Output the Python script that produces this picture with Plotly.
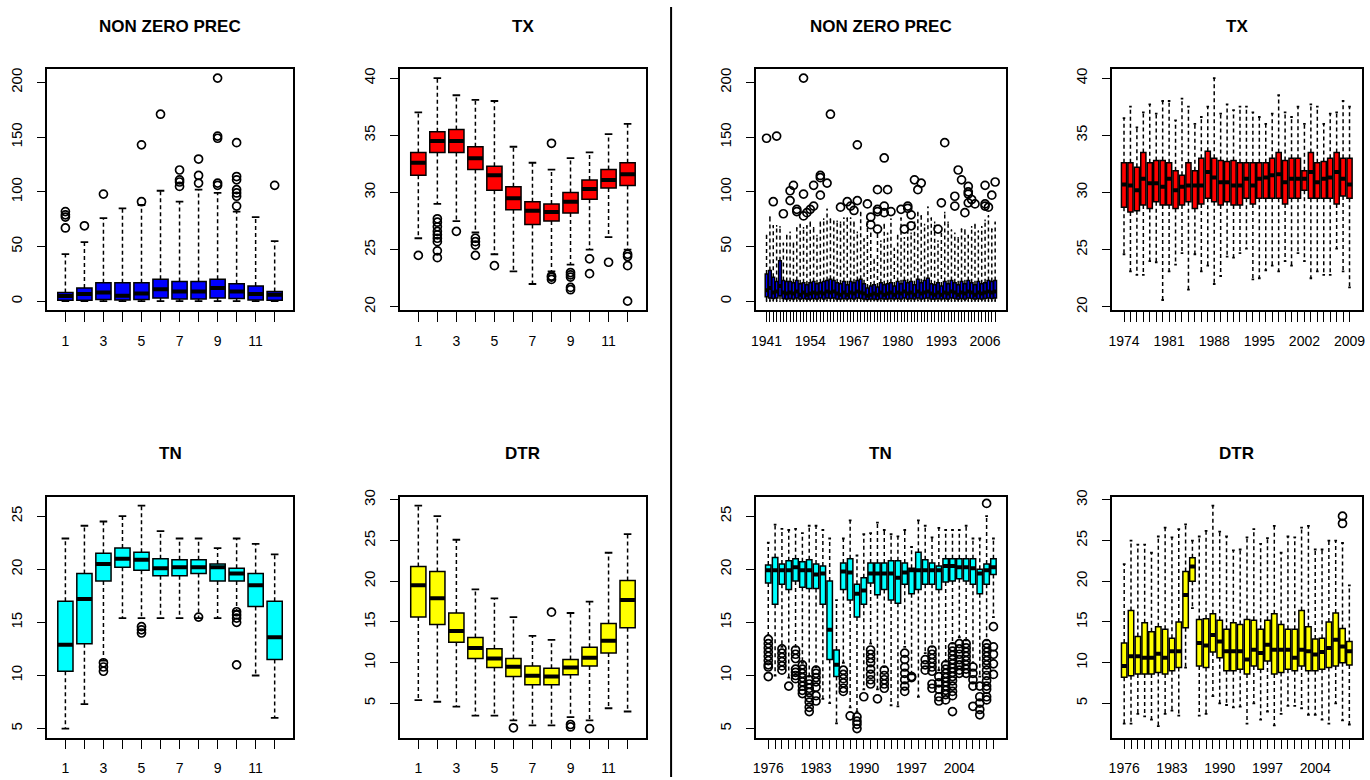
import plotly.graph_objects as go

# ---------------- DATA ----------------
months = list(range(1, 13))
month_labels = ["1", "", "3", "", "5", "", "7", "", "9", "", "11", ""]

# NON ZERO PREC by month
prec_m_lo = [0.1, 0.1, 0.1, 0.2, 0.1, 0.2, 0.1, 0.1, 0.2, 0.1, 0.1, 0.1]
prec_m_q1 = [1.0, 1.0, 1.5, 1.2, 1.5, 3.0, 2.0, 2.0, 3.0, 2.4, 1.2, 1.0]
prec_m_med = [4.8, 6.6, 8.0, 5.0, 7.0, 11.0, 9.0, 9.0, 12.0, 9.0, 6.6, 6.0]
prec_m_q3 = [8.0, 12.0, 17.0, 17.0, 17.0, 20.0, 18.0, 18.0, 20.0, 16.0, 14.0, 9.0]
prec_m_hi = [43, 54, 76, 85, 88, 101, 91, 102, 99, 82, 77, 55]
prec_m_out_x = [1, 1, 1, 1, 2, 3, 5, 5, 6, 7, 7, 7, 7, 8, 8, 8, 9, 9, 9, 9, 9,
                10, 10, 10, 10, 10, 10, 10, 12]
prec_m_out_y = [82, 79, 77, 67, 69, 98, 91, 143, 171, 120, 111, 109, 105, 130, 115, 108,
                204, 151, 149, 108, 106, 145, 114, 111, 102, 99, 96, 87, 106]

# TX by month
tx_m_lo = [26.0, 29.0, 27.5, 26.5, 24.6, 23.1, 22.0, 23.1, 23.7, 25.0, 26.1, 25.0]
tx_m_q1 = [31.5, 33.5, 33.5, 32.0, 30.2, 28.5, 27.2, 27.5, 28.2, 29.4, 30.4, 30.6]
tx_m_med = [32.6, 34.5, 34.5, 33.0, 31.5, 29.5, 28.4, 28.3, 29.2, 30.3, 31.1, 31.6]
tx_m_q3 = [33.5, 35.3, 35.5, 34.0, 32.3, 30.5, 29.2, 29.0, 30.0, 31.1, 32.0, 32.6]
tx_m_hi = [37.0, 40.0, 38.5, 38.1, 38.0, 34.0, 32.6, 32.0, 33.0, 33.5, 35.1, 36.0]
tx_m_out_x = [1, 2, 2, 2, 2, 2, 2, 2, 2, 2, 3, 4, 4, 4, 4, 5, 8, 8, 8, 8,
              9, 9, 9, 9, 9, 10, 10, 11, 12, 12, 12, 12]
tx_m_out_y = [24.5, 27.7, 27.4, 27.0, 26.6, 26.3, 26.0, 25.7, 24.9, 24.3, 26.6,
              26.0, 25.7, 25.4, 24.5, 23.6, 34.3, 22.7, 22.6, 22.4,
              23.0, 22.8, 22.6, 21.7, 21.5, 24.2, 22.9, 23.9, 24.6, 24.4, 23.6, 20.5]

# TN by month
tn_m_lo = [5.0, 7.3, 11.4, 15.4, 15.4, 15.4, 15.4, 15.4, 15.4, 16.1, 10.0, 6.0]
tn_m_q1 = [10.4, 13.0, 18.9, 20.2, 19.9, 19.4, 19.4, 19.6, 18.9, 18.9, 16.5, 11.5]
tn_m_med = [12.9, 17.2, 20.5, 21.0, 20.9, 20.1, 20.2, 20.2, 20.2, 19.6, 18.5, 13.6]
tn_m_q3 = [17.0, 19.6, 21.5, 22.0, 21.6, 21.0, 20.9, 20.9, 20.5, 20.1, 19.6, 17.0]
tn_m_hi = [22.9, 24.1, 24.5, 25.0, 26.0, 23.6, 22.9, 22.9, 22.0, 22.9, 22.4, 21.4]
tn_m_out_x = [3, 3, 3, 5, 5, 5, 8, 10, 10, 10, 10, 10]
tn_m_out_y = [11.2, 10.8, 10.4, 14.6, 14.3, 14.0, 15.5, 16.0, 15.7, 15.4, 15.0, 11.0]

# DTR by month
dtr_m_lo = [5.4, 5.2, 4.6, 3.5, 3.5, 2.9, 2.3, 2.3, 3.3, 2.9, 4.4, 4.0]
dtr_m_q1 = [15.6, 14.7, 12.5, 10.5, 9.4, 8.3, 7.3, 7.3, 8.5, 9.6, 11.2, 14.3]
dtr_m_med = [19.5, 17.9, 13.9, 11.8, 10.5, 9.5, 8.4, 8.3, 9.4, 10.6, 12.7, 17.7]
dtr_m_q3 = [21.8, 21.2, 16.1, 13.1, 11.7, 10.5, 9.6, 9.3, 10.4, 11.9, 14.8, 20.1]
dtr_m_hi = [29.3, 28.0, 25.1, 19.0, 17.9, 15.6, 13.3, 12.8, 16.1, 17.5, 23.5, 25.8]
dtr_m_out_x = [6, 8, 9, 9, 10]
dtr_m_out_y = [2.0, 16.2, 2.4, 2.1, 1.9]

# NON ZERO PREC by year (1941-2009)
prec_years = list(range(1941, 2010))
prec_year_labels = [1941, 1954, 1967, 1980, 1993, 2006]
prec_y_lo = [0.2, 0.1, 0.3, 0.1, 0.2, 0.1, 0.2, 0.3, 0.1, 0.2,
             0.1, 0.2, 0.1, 0.3, 0.2, 0.1, 0.2, 0.1, 0.3, 0.2,
             0.1, 0.2, 0.1, 0.2, 0.3, 0.1, 0.2, 0.1, 0.2, 0.1,
             0.1, 0.2, 0.3, 0.1, 0.2, 0.1, 0.2, 0.1, 0.3, 0.2,
             0.1, 0.2, 0.1, 0.2, 0.1, 0.3, 0.2, 0.1, 0.2, 0.1,
             0.2, 0.1, 0.3, 0.2, 0.1, 0.2, 0.1, 0.2, 0.1, 0.3,
             0.2, 0.1, 0.2, 0.1, 0.3, 0.2, 0.1, 0.2, 0.1]
prec_y_q1 = [4, 3, 2.5, 3, 5, 2.5, 2, 2.5, 2, 3,
             2, 2.5, 2, 2, 2.5, 2, 3, 2, 3, 2.5,
             3, 2, 2, 2.5, 2, 2.5, 2, 3, 2.5, 2,
             1.5, 2, 2, 1.5, 2.5, 2, 2, 2.5, 2, 2.5,
             2, 3, 2, 2.5, 2, 3, 2, 2.5, 3, 2,
             2, 2.5, 2, 2.5, 2, 3, 2.5, 2, 2.5, 2,
             3, 2.5, 2, 2.5, 2, 2.5, 3, 2.5, 3]
prec_y_med = [10, 12, 8, 9, 14, 8, 7, 8, 7, 9,
              6, 8, 6, 7, 8, 7, 8, 7, 9, 8,
              9, 7, 6, 8, 6, 8, 7, 9, 8, 7,
              5, 6, 7, 6, 8, 6, 7, 8, 6, 8,
              7, 9, 7, 8, 6, 9, 7, 8, 9, 7,
              6, 8, 6, 8, 7, 9, 8, 6, 8, 7,
              9, 8, 6, 8, 7, 8, 9, 8, 9]
prec_y_q3 = [25, 28, 22, 18, 37, 19, 18, 18, 17, 19,
             16, 17, 15, 17, 18, 16, 17, 18, 19, 20,
             19, 17, 16, 18, 15, 18, 17, 19, 20, 16,
             12, 14, 15, 13, 17, 15, 16, 17, 14, 18,
             16, 19, 17, 18, 15, 20, 17, 19, 21, 16,
             15, 17, 14, 18, 16, 19, 17, 15, 18, 16,
             19, 17, 15, 18, 16, 17, 19, 18, 19]
prec_y_hi = [60, 77, 69, 69, 68, 53, 60, 63, 53, 67,
             70, 67, 69, 72, 67, 60, 72, 75, 84, 75,
             73, 73, 72, 76, 76, 76, 72, 63, 81, 57,
             75, 62, 38, 62, 55, 70, 62, 75, 48, 60,
             76, 58, 70, 62, 72, 81, 78, 70, 86, 76,
             72, 55, 64, 81, 72, 65, 62, 58, 66, 65,
             60, 68, 70, 64, 68, 74, 78, 66, 72]
prec_y_out_year = [1941, 1943, 1944, 1946, 1948, 1948, 1949, 1950, 1950, 1952, 1952, 1952,
                   1953, 1954, 1955, 1955, 1957, 1957, 1957, 1959, 1960, 1963, 1965, 1966,
                   1967, 1968, 1968, 1971, 1972, 1972, 1974, 1974, 1974, 1974, 1976, 1976,
                   1976, 1977, 1978, 1981, 1982, 1983, 1983, 1984, 1984, 1985, 1986, 1987,
                   1992, 1993, 1994, 1997, 1997, 1998, 1999, 2000, 2001, 2001, 2001, 2001,
                   2002, 2003, 2006, 2006, 2006, 2007, 2008, 2009]
prec_y_out_val = [149, 91, 151, 80, 92, 101, 106, 84, 82, 204, 98, 78,
                  81, 84, 87, 106, 97, 115, 113, 108, 171, 86, 91, 87,
                  83, 143, 92, 89, 77, 70, 102, 82, 84, 66, 131, 87,
                  81, 102, 82, 84, 66, 87, 85, 79, 69, 111, 102, 108,
                  66, 90, 145, 87, 96, 120, 111, 81, 105, 100, 98, 90,
                  93, 89, 106, 89, 87, 86, 97, 109]

# TX by year (1974-2009)
tx_years = list(range(1974, 2010))
tx_year_labels = [1974, 1981, 1988, 1995, 2002, 2009]
tx_y_lo = [24.6, 23.1, 22.8, 22.8, 24.0, 23.9, 20.6, 23.1, 23.7, 24.7, 21.5, 24.6,
           23.1, 23.6, 22.0, 22.7, 24.4, 24.3, 24.7, 25.1, 22.4, 22.5, 23.2, 23.6,
           23.1, 24.0, 23.6, 24.7, 24.0, 22.5, 23.1, 22.8, 22.8, 25.1, 23.1, 21.7]
tx_y_q1 = [28.7, 28.3, 28.4, 28.9, 28.6, 29.2, 28.9, 28.9, 28.6, 28.9, 29.2, 28.6,
           29.0, 29.5, 29.2, 28.9, 29.2, 28.9, 28.9, 29.5, 29.0, 29.5, 29.5, 29.5,
           29.5, 29.0, 29.5, 29.5, 30.2, 29.5, 29.5, 29.5, 29.5, 29.0, 29.7, 29.5]
tx_y_med = [30.7, 30.6, 30.2, 31.2, 30.8, 30.8, 30.5, 31.2, 30.2, 30.5, 30.6, 30.6,
            30.6, 31.8, 31.3, 30.9, 30.9, 30.6, 30.6, 31.2, 30.6, 31.2, 31.3, 31.5,
            31.6, 30.9, 31.2, 31.2, 31.2, 31.8, 30.9, 31.2, 31.3, 31.8, 31.2, 30.7]
tx_y_q3 = [32.6, 32.6, 32.2, 33.5, 32.6, 32.8, 32.8, 32.6, 31.9, 31.5, 32.6, 31.9,
           33.0, 33.6, 33.0, 32.8, 32.7, 32.8, 32.6, 32.6, 32.6, 32.6, 32.6, 33.0,
           33.5, 32.8, 33.0, 33.0, 31.9, 33.5, 32.6, 32.7, 33.0, 33.5, 33.0, 33.0]
tx_y_hi = [36.5, 37.5, 35.7, 37.0, 37.7, 36.9, 38.0, 38.0, 36.3, 38.2, 37.5, 36.0,
           36.6, 37.5, 40.0, 36.9, 37.7, 37.2, 37.5, 37.5, 37.0, 36.6, 36.0, 36.9,
           38.5, 37.0, 36.6, 37.5, 36.0, 37.7, 37.5, 36.0, 36.9, 37.0, 38.0, 37.5]

# TN by year (1976-2009)
tn_years = list(range(1976, 2010))
tn_year_labels = [1976, 1983, 1990, 1997, 2004]
tn_y_lo = [13.8, 10.0, 12.7, 9.8, 12.7, 11.2, 9.9, 10.8, 7.8, 7.4, 5.5, 11.2, 7.0, 6.6, 8.7, 13.0, 8.7,
           10.8, 7.2, 7.1, 12.7, 10.1, 8.0, 12.1, 12.7, 10.5, 11.3, 13.0, 13.6, 13.3, 11.2, 9.9, 13.3, 15.5]
tn_y_q1 = [18.7, 16.7, 18.6, 18.1, 18.9, 18.3, 18.2, 18.2, 16.7, 11.5, 9.9, 18.1, 17.1, 15.5, 16.7, 18.7, 17.6,
           18.1, 17.1, 16.8, 18.6, 17.7, 18.1, 18.6, 18.6, 18.1, 18.8, 18.9, 19.1, 18.9, 18.6, 17.7, 18.6, 19.5]
tn_y_med = [19.9, 19.9, 19.9, 19.9, 20.2, 19.9, 19.9, 19.5, 19.6, 14.3, 11.0, 19.8, 19.7, 17.7, 18.0, 19.6, 19.6,
            19.6, 19.6, 19.2, 19.7, 19.9, 19.9, 19.9, 19.9, 19.9, 20.3, 20.3, 20.2, 20.2, 20.1, 19.6, 19.9, 20.2]
tn_y_q3 = [20.4, 21.1, 20.5, 20.8, 21.0, 20.7, 20.9, 20.5, 20.3, 18.9, 12.4, 20.6, 21.0, 18.6, 19.2, 20.6, 20.6,
           20.6, 20.8, 20.8, 20.6, 20.1, 21.6, 20.9, 20.6, 20.3, 21.0, 21.0, 21.0, 21.0, 21.0, 20.0, 20.5, 21.0]
tn_y_hi = [22.5, 24.2, 23.8, 23.7, 23.8, 23.4, 24.1, 24.1, 23.7, 22.9, 17.1, 22.9, 24.6, 21.3, 23.3, 23.4, 24.4,
           23.7, 23.3, 23.1, 23.7, 22.1, 24.6, 24.1, 23.0, 23.9, 23.7, 23.7, 23.7, 24.1, 22.9, 22.9, 25.0, 22.9]
tn_y_out_year = ([1976] * 9 + [1978] * 6 + [1979] + [1980] * 7 + [1981] * 8 + [1982] * 8 + [1983] * 7 +
                 [1987] * 6 + [1988] + [1989] * 4 + [1990] + [1991] * 8 + [1992] + [1993] * 5 +
                 [1996] * 7 + [1997] * 2 + [1999] * 3 + [2000] * 8 + [2001] * 5 + [2002] * 9 +
                 [2003] * 13 + [2004] * 7 + [2005] * 8 + [2006] * 5 + [2007] * 5 + [2008] * 14 + [2009] * 5)
tn_y_out_val = [13.4, 13.0, 12.6, 12.2, 11.8, 11.4, 11.0, 10.8, 9.9,
                12.5, 12.1, 11.7, 11.3, 10.9, 10.5,
                9.0,
                12.4, 12.0, 11.6, 10.6, 10.3, 10.0, 9.7,
                11.0, 10.6, 10.2, 9.8, 9.4, 9.0, 8.6, 8.3,
                9.6, 9.2, 8.8, 8.4, 7.9, 7.5, 7.0, 6.6,
                10.5, 10.2, 9.8, 9.4, 8.9, 8.1, 7.6,
                10.5, 10.1, 9.7, 9.3, 8.8, 8.5,
                6.2,
                6.1, 5.7, 5.4, 5.0,
                8.0,
                12.4, 12.0, 11.6, 11.2, 10.6, 10.1, 9.6, 9.2,
                7.8,
                10.5, 10.0, 9.6, 9.2, 8.8,
                12.1, 11.5, 10.8, 10.2, 9.6, 9.0, 8.5,
                9.9, 9.8,
                11.5, 11.0, 10.5,
                12.4, 12.0, 11.6, 11.2, 10.8, 10.4, 9.2, 8.8,
                9.9, 9.3, 8.7, 8.0, 7.6,
                11.0, 10.6, 10.2, 9.8, 9.4, 9.0, 8.6, 8.2, 7.7,
                12.7, 12.3, 11.9, 11.5, 11.1, 10.7, 10.3, 9.9, 9.5, 9.0, 8.5, 8.1, 6.6,
                13.0, 12.5, 12.0, 11.5, 11.0, 10.5, 10.2,
                13.0, 12.6, 12.2, 11.8, 11.4, 11.0, 10.6, 10.2,
                10.8, 10.2, 9.6, 9.0, 7.1,
                9.0, 8.0, 7.4, 6.8, 6.3,
                26.2, 13.0, 12.6, 12.2, 11.8, 11.4, 11.0, 10.5, 10.0, 9.5, 9.0, 8.7, 8.0, 7.7,
                14.6, 12.7, 12.0, 11.1, 10.1]

# DTR by year (1976-2009)
dtr_years = list(range(1976, 2010))
dtr_year_labels = [1976, 1983, 1990, 1997, 2004]
dtr_y_lo = [2.5, 2.5, 3.7, 3.4, 3.0, 2.2, 3.7, 4.1, 3.5, 9.4, 16.7, 3.5, 3.7, 5.9, 5.0, 4.8, 4.5,
            4.6, 2.5, 5.0, 3.0, 4.0, 2.3, 3.7, 4.7, 4.7, 4.4, 3.6, 3.6, 3.0, 2.5, 5.0, 2.9, 2.4]
dtr_y_q1 = [8.2, 8.4, 8.6, 8.6, 8.6, 8.8, 8.6, 9.0, 9.4, 14.3, 20.0, 9.6, 9.4, 11.3, 10.6, 9.0, 9.0,
            9.2, 8.6, 9.6, 9.2, 10.2, 8.6, 8.8, 9.2, 9.0, 9.6, 9.0, 9.0, 9.2, 9.4, 9.6, 10.0, 9.7]
dtr_y_med = [9.6, 10.8, 10.8, 10.6, 10.6, 11.1, 10.6, 11.4, 11.4, 18.3, 21.8, 12.4, 12.1, 13.4, 12.6, 11.4, 11.4,
             11.4, 10.4, 11.6, 11.2, 12.2, 11.6, 11.6, 11.6, 10.6, 11.6, 11.4, 11.0, 11.3, 11.8, 12.8, 12.0, 11.4]
dtr_y_q3 = [12.4, 16.4, 13.2, 14.9, 13.8, 14.4, 14.1, 13.0, 15.0, 21.2, 22.9, 15.3, 15.4, 16.0, 15.2, 14.1, 14.9,
            14.7, 15.3, 15.2, 14.1, 15.2, 16.0, 14.7, 14.1, 14.1, 16.4, 14.4, 12.9, 13.0, 15.0, 16.1, 14.2, 12.6]
dtr_y_hi = [22.1, 25.0, 24.5, 24.5, 23.5, 25.5, 26.6, 25.4, 26.4, 27.0, 25.0, 25.5, 26.2, 29.3, 26.1, 25.5, 23.8,
            23.9, 25.4, 26.4, 24.6, 25.3, 26.8, 23.5, 25.5, 25.4, 26.6, 26.8, 23.9, 23.9, 25.0, 25.0, 24.7, 19.5]
dtr_y_out_year = [2008, 2008]
dtr_y_out_val = [28.0, 27.1]

# ---------------- LAYOUT ----------------
W, H = 1370, 780
COLS = [(42, 290), (397, 645), (755, 1007), (1113, 1365)]
ROWS = [(63, 307), (496, 740)]
TITLE_Y = [20, 452]

TICK_FONT = dict(family="Liberation Sans, Arial", size=14, color="black")
YTICK_FONT = dict(family="Liberation Sans, Arial", size=15, color="black")
TITLE_FONT = dict(family="Liberation Sans, Arial", size=17, color="black")

fig = go.Figure()


def yrange_for(*lists):
    vals = [v for l in lists for v in l]
    lo, hi = min(vals), max(vals)
    pad = 0.04 * (hi - lo)
    return [lo - pad, hi + pad]


def add_panel(k, col, row, title, lo, q1, med, q3, hi, out_pos, out_val,
              color, ticktext, yr, ytv):
    n = len(q1)
    pos = list(range(1, n + 1))
    xa = "x" if k == 1 else f"x{k}"
    ya = "y" if k == 1 else f"y{k}"
    common = dict(xaxis=xa, yaxis=ya, hoverinfo="skip", showlegend=False)

    wx, wy, cx, cy, mx, my = [], [], [], [], [], []
    for p, a, b, m, c, d in zip(pos, lo, q1, med, q3, hi):
        wx += [p, p, None, p, p, None]
        wy += [b, a, None, c, d, None]
        cx += [p - 0.2, p + 0.2, None, p - 0.2, p + 0.2, None]
        cy += [a, a, None, d, d, None]
        mx += [p - 0.4, p + 0.4, None]
        my += [m, m, None]

    fig.add_trace(go.Scatter(x=wx, y=wy, mode="lines",
                             line=dict(color="black", width=1.5, dash="4px,3px"), **common))
    fig.add_trace(go.Scatter(x=cx, y=cy, mode="lines",
                             line=dict(color="black", width=1.8), **common))
    fig.add_trace(go.Box(x=pos, q1=q1, median=med, q3=q3, lowerfence=q1, upperfence=q3,
                         width=0.8, fillcolor=color, line=dict(color="black", width=1.5),
                         boxpoints=False, **common))
    fig.add_trace(go.Scatter(x=mx, y=my, mode="lines",
                             line=dict(color="black", width=4), **common))
    if out_pos:
        fig.add_trace(go.Scatter(x=out_pos, y=out_val, mode="markers",
                                 marker=dict(symbol="circle-open", size=8, color="black",
                                             line=dict(width=1.7, color="black")), **common))

    x0, x1 = COLS[col]
    y0, y1 = ROWS[row]
    fig.layout["xaxis" if k == 1 else f"xaxis{k}"] = dict(
        domain=[x0 / W, x1 / W], range=[0.5 - 0.04 * n, n + 0.5 + 0.04 * n],
        tickvals=pos, ticktext=ticktext, tickangle=0, ticks="outside", ticklen=10, tickwidth=1.3,
        tickcolor="black", showline=True, mirror=True, linecolor="black", linewidth=1.6,
        showgrid=False, zeroline=False, anchor=ya, tickfont=TICK_FONT, ticklabelstandoff=7,
        fixedrange=True)
    fig.layout["yaxis" if k == 1 else f"yaxis{k}"] = dict(
        domain=[1 - y1 / H, 1 - y0 / H], range=yr, tickvals=ytv, ticks="outside",
        ticklen=8, tickwidth=1.3, tickcolor="black", tickangle=-90, showline=True,
        mirror=True, linecolor="black", linewidth=1.6, showgrid=False, zeroline=False,
        anchor=xa, tickfont=YTICK_FONT, ticklabelstandoff=9, fixedrange=True)
    fig.add_annotation(text=f"<b>{title}</b>", x=(x0 + x1) / 2 / W, y=1 - TITLE_Y[row] / H,
                       xref="paper", yref="paper", showarrow=False, font=TITLE_FONT,
                       xanchor="center", yanchor="middle")


def year_ticktext(years, labels):
    return [str(y) if y in labels else "" for y in years]


def year_index(years, out_years):
    return [years.index(y) + 1 for y in out_years]


prec_range = yrange_for(prec_m_lo, prec_m_hi, prec_m_out_y)
tx_range = yrange_for(tx_m_lo, tx_m_hi, tx_m_out_y)
tn_range = yrange_for(tn_m_lo, tn_m_hi, tn_m_out_y)
dtr_range = yrange_for(dtr_m_lo, dtr_m_hi, dtr_m_out_y)

BLUE, RED, CYAN, YELLOW = "#0000FF", "#FF0000", "#00FFFF", "#FFFF00"

add_panel(1, 0, 0, "NON ZERO PREC", prec_m_lo, prec_m_q1, prec_m_med, prec_m_q3, prec_m_hi,
          prec_m_out_x, prec_m_out_y, BLUE, month_labels, prec_range, [0, 50, 100, 150, 200])
add_panel(2, 1, 0, "TX", tx_m_lo, tx_m_q1, tx_m_med, tx_m_q3, tx_m_hi,
          tx_m_out_x, tx_m_out_y, RED, month_labels, tx_range, [20, 25, 30, 35, 40])
add_panel(3, 2, 0, "NON ZERO PREC", prec_y_lo, prec_y_q1, prec_y_med, prec_y_q3, prec_y_hi,
          year_index(prec_years, prec_y_out_year), prec_y_out_val, BLUE,
          year_ticktext(prec_years, prec_year_labels), prec_range, [0, 50, 100, 150, 200])
add_panel(4, 3, 0, "TX", tx_y_lo, tx_y_q1, tx_y_med, tx_y_q3, tx_y_hi,
          [], [], RED, year_ticktext(tx_years, tx_year_labels), tx_range, [20, 25, 30, 35, 40])
add_panel(5, 0, 1, "TN", tn_m_lo, tn_m_q1, tn_m_med, tn_m_q3, tn_m_hi,
          tn_m_out_x, tn_m_out_y, CYAN, month_labels, tn_range, [5, 10, 15, 20, 25])
add_panel(6, 1, 1, "DTR", dtr_m_lo, dtr_m_q1, dtr_m_med, dtr_m_q3, dtr_m_hi,
          dtr_m_out_x, dtr_m_out_y, YELLOW, month_labels, dtr_range, [5, 10, 15, 20, 25, 30])
add_panel(7, 2, 1, "TN", tn_y_lo, tn_y_q1, tn_y_med, tn_y_q3, tn_y_hi,
          year_index(tn_years, tn_y_out_year), tn_y_out_val, CYAN,
          year_ticktext(tn_years, tn_year_labels), tn_range, [5, 10, 15, 20, 25])
add_panel(8, 3, 1, "DTR", dtr_y_lo, dtr_y_q1, dtr_y_med, dtr_y_q3, dtr_y_hi,
          year_index(dtr_years, dtr_y_out_year), dtr_y_out_val, YELLOW,
          year_ticktext(dtr_years, dtr_year_labels), dtr_range, [5, 10, 15, 20, 25, 30])

fig.add_shape(type="line", xref="paper", yref="paper", x0=670 / W, x1=670 / W, y0=0, y1=1,
              line=dict(color="black", width=2))

fig.update_layout(width=W, height=H, margin=dict(l=0, r=0, t=0, b=0),
                  paper_bgcolor="white", plot_bgcolor="white", showlegend=False,
                  hovermode=False)

fig.write_html("out.html", config={"displayModeBar": False},
               post_script="document.body.style.margin='0';document.body.style.padding='0';"
                           "document.body.style.overflow='hidden';")
